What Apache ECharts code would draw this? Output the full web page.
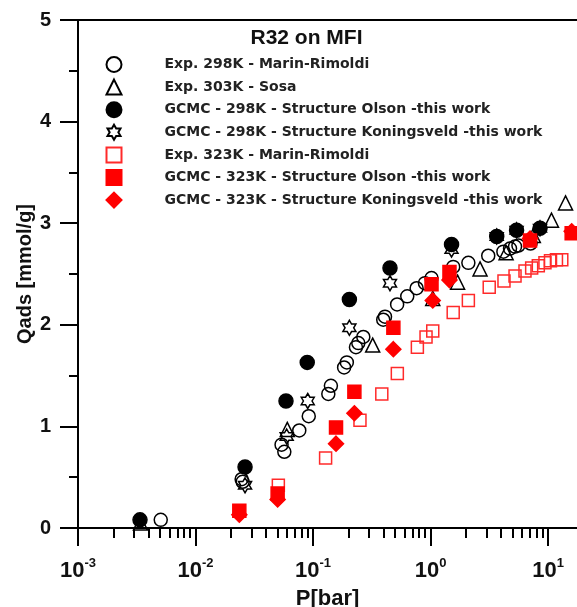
<!DOCTYPE html>
<html><head><meta charset="utf-8">
<script src="https://cdn.jsdelivr.net/npm/echarts@6/dist/echarts.min.js"></script>
<style>html,body{margin:0;padding:0;background:#fff}#c{width:577px;height:607px}</style>
</head><body><div id="c"></div>
<script>
const FONT = "'Liberation Sans', Arial, Helvetica, sans-serif";
const LEGEND_FONT = "'DejaVu Sans', 'Liberation Sans', sans-serif";

const seriesNames = [
  'Exp. 298K - Marin-Rimoldi',
  'Exp. 303K - Sosa',
  'GCMC - 298K - Structure Olson -this work',
  'GCMC - 298K - Structure Koningsveld -this work',
  'Exp. 323K - Marin-Rimoldi',
  'GCMC - 323K - Structure Olson -this work',
  'GCMC - 323K - Structure Koningsveld -this work'
];

// [P (bar), Qads (mmol/g)]
const exp298Marin = [[0.00506,0.08],[0.0247,0.48],[0.0252,0.455],[0.054,0.82],[0.057,0.75],[0.0764,0.96],[0.092,1.10],[0.135,1.32],[0.142,1.40],[0.184,1.58],[0.194,1.63],[0.232,1.78],[0.243,1.82],[0.268,1.88],[0.396,2.05],[0.41,2.08],[0.52,2.20],[0.634,2.28],[0.762,2.36],[0.897,2.41],[1.02,2.46],[1.56,2.57],[2.1,2.61],[3.1,2.68],[4.17,2.72],[4.75,2.75],[5.24,2.77],[5.6,2.78],[7.1,2.80]];
const exp303Sosa = [[0.0034,0.05],[0.0604,0.97],[0.322,1.80],[1.045,2.26],[1.70,2.42],[2.64,2.55],[4.4,2.71],[7.5,2.88],[10.7,3.03],[14.1,3.20]];
const gcmc298Olson = [[0.00337,0.08],[0.0264,0.60],[0.0589,1.25],[0.0893,1.63],[0.204,2.25],[0.452,2.56],[1.51,2.79],[3.66,2.87],[5.4,2.93],[8.55,2.95]];
const gcmc298Koning = [[0.0264,0.42],[0.0597,0.90],[0.0902,1.25],[0.204,1.97],[0.452,2.41],[1.51,2.74],[3.66,2.87],[5.4,2.93],[8.55,2.95]];
const exp323Marin = [[0.0507,0.42],[0.128,0.69],[0.251,1.06],[0.385,1.32],[0.522,1.52],[0.773,1.78],[0.916,1.88],[1.045,1.94],[1.56,2.12],[2.1,2.24],[3.16,2.37],[4.22,2.43],[5.24,2.48],[6.37,2.53],[7.26,2.56],[8.27,2.58],[9.42,2.61],[10.5,2.63],[11.8,2.64],[13.1,2.64]];
const gcmc323Olson = [[0.0236,0.17],[0.050,0.34],[0.157,0.99],[0.225,1.34],[0.483,1.97],[1.02,2.40],[1.45,2.52],[7.03,2.83],[15.9,2.90]];
const gcmc323Koning = [[0.0236,0.13],[0.050,0.28],[0.157,0.83],[0.225,1.13],[0.483,1.76],[1.045,2.24],[1.45,2.44],[7.03,2.85],[15.9,2.92]];

const xTickValues = [0.001, 0.01, 0.1, 1, 10];
const xTickExponents = ['-3', '-2', '-1', '0', '1'];
const yTickValues = [0, 1, 2, 3, 4, 5];
const xMinorMultipliers = [2, 3, 4, 5, 6, 7, 8, 9];

const X_MIN = 0.001, X_MAX = 17.65;
const xMinorValues = [];
xTickValues.forEach(d => xMinorMultipliers.forEach(m => { if (d * m < X_MAX) xMinorValues.push(+(d * m).toPrecision(3)); }));

const HEX = 'path://M100 0 L128.87 50 L186.6 50 L157.74 100 L186.6 150 L128.87 150 L100 200 L71.13 150 L13.4 150 L42.26 100 L13.4 50 L71.13 50 Z';

const chart = echarts.init(document.getElementById('c'), null, {renderer: 'canvas'});
const axisLineStyle = {color: '#000', width: 2};
const gridRect = {left: 78, top: 20, right: 0, bottom: 79, outerBoundsMode: 'none', containLabel: false};

function sc(name, data, symbol, size, fill, stroke, extra) {
  return Object.assign({
    type: 'scatter', name: name, data: data, symbol: symbol, symbolSize: size,
    xAxisIndex: 0, yAxisIndex: 0,
    itemStyle: {color: fill, borderColor: stroke, borderWidth: 1.5, opacity: 1},
    emphasis: {disabled: true}
  }, extra || {});
}

chart.setOption({
  animation: false,
  backgroundColor: '#fff',
  title: {
    text: 'R32 on MFI', left: 250.5, top: 28, padding: 0,
    textStyle: {fontFamily: FONT, fontWeight: 'bold', fontSize: 21, color: '#111'}
  },
  legend: {
    orient: 'vertical', left: 105.5, top: 56, itemWidth: 15, itemHeight: 15, itemGap: 5.6,
    padding: 0, selectedMode: false,
    data: seriesNames,
    formatter: n => '{p|}' + n,
    textStyle: {fontFamily: LEGEND_FONT, fontWeight: 'bold', fontSize: 14, lineHeight: 15, color: '#222',
      rich: {p: {width: 38, lineHeight: 15}}}
  },
  grid: [Object.assign({}, gridRect), Object.assign({}, gridRect)],
  xAxis: [
    {
      type: 'log', gridIndex: 0, min: X_MIN, max: X_MAX, position: 'bottom', logBase: 10,
      axisLine: {show: true, lineStyle: axisLineStyle},
      axisTick: {show: true, customValues: xTickValues, length: 18, lineStyle: axisLineStyle},
      axisLabel: {
        show: true, customValues: xTickValues, margin: 29,
        formatter: v => {
          const i = xTickValues.findIndex(t => Math.abs(Math.log10(t) - Math.log10(v)) < 1e-6);
          return '{b|10}{s|' + (i >= 0 ? xTickExponents[i] : '') + '}';
        },
        rich: {
          b: {fontFamily: FONT, fontWeight: 'bold', fontSize: 22, color: '#111'},
          s: {fontFamily: FONT, fontWeight: 'bold', fontSize: 13, color: '#111', padding: [0, 0, 14, 0]}
        }
      },
      splitLine: {show: false}, minorTick: {show: false},
      name: 'P[bar]', nameLocation: 'middle', nameGap: 60, nameMoveOverlap: false,
      nameTextStyle: {fontFamily: FONT, fontWeight: 'bold', fontSize: 22, color: '#111'}
    },
    {
      type: 'log', gridIndex: 0, min: X_MIN, max: X_MAX, position: 'top',
      axisLine: {show: true, lineStyle: axisLineStyle},
      axisTick: {show: false}, axisLabel: {show: false}, splitLine: {show: false}
    },
    {
      type: 'log', gridIndex: 1, min: X_MIN, max: X_MAX, position: 'bottom',
      axisLine: {show: false},
      axisTick: {show: true, customValues: xMinorValues, length: 10, lineStyle: axisLineStyle},
      axisLabel: {show: false}, splitLine: {show: false}
    }
  ],
  yAxis: [
    {
      type: 'value', gridIndex: 0, min: 0, max: 5, interval: 1, position: 'left',
      axisLine: {show: true, lineStyle: axisLineStyle},
      axisTick: {show: true, length: 18, lineStyle: axisLineStyle},
      minorTick: {show: true, splitNumber: 2, length: 9, lineStyle: axisLineStyle},
      axisLabel: {
        show: true, margin: 27, customValues: yTickValues,
        fontFamily: FONT, fontWeight: 'bold', fontSize: 20, color: '#111'
      },
      splitLine: {show: false}, minorSplitLine: {show: false},
      name: 'Qads [mmol/g]', nameLocation: 'middle', nameGap: 43, nameRotate: 90, nameMoveOverlap: false,
      nameTextStyle: {fontFamily: FONT, fontWeight: 'bold', fontSize: 20, color: '#111'}
    },
    {
      type: 'value', gridIndex: 1, min: 0, max: 5, show: false
    }
  ],
  series: [
    sc(seriesNames[0], exp298Marin, 'circle', 13, 'rgba(0,0,0,0)', '#000'),
    sc(seriesNames[1], exp303Sosa, 'triangle', 14, 'rgba(0,0,0,0)', '#000'),
    sc(seriesNames[2], gcmc298Olson, 'circle', 14, '#000', '#000'),
    sc(seriesNames[3], gcmc298Koning, HEX, 15, 'rgba(0,0,0,0)', '#000', {symbolKeepAspect: true}),
    sc(seriesNames[4], exp323Marin, 'rect', 12, 'rgba(0,0,0,0)', '#ff2a2a'),
    sc(seriesNames[5], gcmc323Olson, 'rect', 13, '#ff0000', '#ff0000'),
    sc(seriesNames[6], gcmc323Koning, 'diamond', 15, '#ff0000', '#ff0000')
  ]
});
</script></body></html>
